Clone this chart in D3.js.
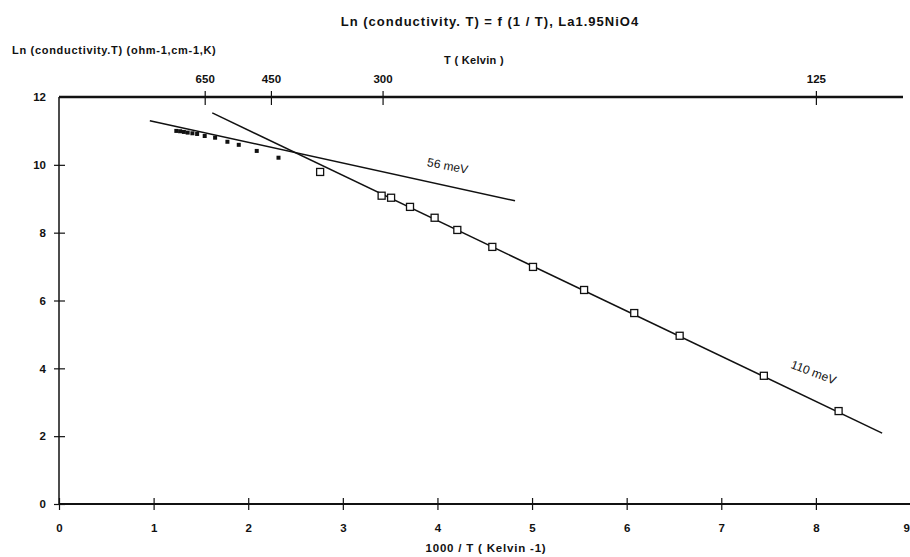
<!DOCTYPE html>
<html>
<head>
<meta charset="UTF-8">
<title>ln_conductivity_T</title>
<style type="text/css">
	body { margin: 0; background: #fff; }
	text { font-family: "Liberation Sans", Arial, sans-serif; font-weight: bold; fill: #111; }
	.tick text { font-size: 11.5px; }
	.axis path, .axis line { stroke: #111; }
</style>
<script type="text/javascript" src="https://cdn.jsdelivr.net/npm/d3@7/dist/d3.min.js"></script>
</head>
<body>
<div id="div_main"></div>
<script type="text/javascript">

	// open squares (1000/T, ln(sigma.T))
	var openX = [2.76, 3.41, 3.51, 3.71, 3.97, 4.21, 4.58, 5.01, 5.55, 6.08, 6.56, 7.45, 8.24];
	var openY = [9.79, 9.09, 9.03, 8.76, 8.44, 8.08, 7.58, 6.99, 6.31, 5.63, 4.96, 3.78, 2.74];

	// small filled points, high temperature
	var fillX = [1.24, 1.28, 1.32, 1.36, 1.41, 1.46, 1.54, 1.65, 1.78, 1.90, 2.09, 2.32];
	var fillY = [11.0, 10.99, 10.97, 10.95, 10.93, 10.91, 10.85, 10.80, 10.68, 10.59, 10.41, 10.21];

	// fitted lines
	var line56X = [0.96, 4.82];
	var line56Y = [11.30, 8.94];
	var line110X = [1.62, 8.70];
	var line110Y = [11.53, 2.09];

	var xTicks = [0, 1, 2, 3, 4, 5, 6, 7, 8, 9];
	var yTicks = [0, 2, 4, 6, 8, 10, 12];
	var topLabels = ["650", "450", "300", "125"];
	var topTickX = [1.54, 2.24, 3.42, 8.0];

	var w = 910, h = 557;

	var scaleX = d3.scaleLinear().domain([0, 9]).range([59, 910.5]);
	var scaleY = d3.scaleLinear().domain([0, 12]).range([504, 97]);

	var svg = d3.select("#div_main").append("svg")
		.attr("width", w)
		.attr("height", h);

	// title & axis names
	svg.append("text").attr("x", 490).attr("y", 26).attr("text-anchor", "middle")
		.style("font-size", "13px").style("letter-spacing", "1px")
		.text("Ln (conductivity. T) = f (1 / T), La1.95NiO4");
	svg.append("text").attr("x", 12).attr("y", 54)
		.style("font-size", "11px").style("letter-spacing", "0.7px")
		.text("Ln (conductivity.T) (ohm-1,cm-1,K)");
	svg.append("text").attr("x", 474).attr("y", 64).attr("text-anchor", "middle")
		.style("font-size", "11px").style("letter-spacing", "0.3px")
		.text("T ( Kelvin )");
	svg.append("text").attr("x", 486).attr("y", 552).attr("text-anchor", "middle")
		.style("font-size", "11.5px").style("letter-spacing", "0.8px")
		.text("1000 / T  ( Kelvin -1)");

	// bottom axis
	var axisX = d3.axisBottom(scaleX).tickValues(xTicks).tickFormat(d3.format("d")).tickSize(6);
	var gx = svg.append("g").attr("class", "axis")
		.attr("transform", "translate(0," + scaleY(0) + ")")
		.call(axisX);
	gx.select(".domain").attr("d", "M" + scaleX(0) + ",0H" + w).attr("stroke-width", 2);
	gx.selectAll(".tick line").attr("y1", -6).attr("y2", 6).attr("stroke-width", 1.2);
	gx.selectAll(".tick text").attr("y", 20);
	gx.selectAll(".tick").filter(function (d) { return d == 9; }).select("text")
		.attr("text-anchor", "end").attr("x", -1);

	// left axis
	var axisY = d3.axisLeft(scaleY).tickValues(yTicks).tickFormat(d3.format("d")).tickSize(5);
	var gy = svg.append("g").attr("class", "axis")
		.attr("transform", "translate(" + scaleX(0) + ",0)")
		.call(axisY);
	gy.select(".domain").attr("d", "M0," + scaleY(0) + "V" + scaleY(12)).attr("stroke-width", 1.5);
	gy.selectAll(".tick line").attr("x1", -5).attr("x2", 6).attr("stroke-width", 1.2);
	gy.selectAll(".tick").filter(function (d) { return d == 12; }).select("line").remove();
	gy.selectAll(".tick text").attr("x", -13);

	// top axis (temperature)
	var axisT = d3.axisTop(scaleX).tickValues(topTickX)
		.tickFormat(function (d, i) { return topLabels[i]; }).tickSize(7);
	var gt = svg.append("g").attr("class", "axis")
		.attr("transform", "translate(0," + scaleY(12) + ")")
		.call(axisT);
	gt.select(".domain").attr("d", "M" + scaleX(0) + ",0H903").attr("stroke-width", 2.6);
	gt.selectAll(".tick line").attr("y1", -6).attr("y2", 8).attr("stroke-width", 1.2);
	gt.selectAll(".tick text").attr("y", -14);

	// fitted lines
	var lineGen = d3.line().x(function (d) { return scaleX(d[0]); }).y(function (d) { return scaleY(d[1]); });
	[[line56X, line56Y], [line110X, line110Y]].forEach(function (l) {
		svg.append("path")
			.datum(d3.zip(l[0], l[1]))
			.attr("d", lineGen)
			.attr("fill", "none")
			.attr("stroke", "#111")
			.attr("stroke-width", 1.5);
	});

	// filled points
	svg.selectAll("rect.fill")
		.data(d3.zip(fillX, fillY))
		.enter()
		.append("rect")
			.attr("class", "fill")
			.attr("x", function (d) { return scaleX(d[0]) - 2; })
			.attr("y", function (d) { return scaleY(d[1]) - 2; })
			.attr("width", 4)
			.attr("height", 4)
			.attr("fill", "#111");

	// open squares
	svg.selectAll("rect.open")
		.data(d3.zip(openX, openY))
		.enter()
		.append("rect")
			.attr("class", "open")
			.attr("x", function (d) { return scaleX(d[0]) - 3.5; })
			.attr("y", function (d) { return scaleY(d[1]) - 3.5; })
			.attr("width", 7)
			.attr("height", 7)
			.attr("fill", "#fff")
			.attr("stroke", "#111")
			.attr("stroke-width", 1.3);

	// slope labels
	svg.append("text")
		.attr("transform", "translate(" + scaleX(4.1) + "," + scaleY(9.85) + ") rotate(11)")
		.attr("text-anchor", "middle")
		.style("font-size", "12px").style("font-weight", "normal")
		.text("56 meV");
	svg.append("text")
		.attr("transform", "translate(" + scaleX(7.96) + "," + scaleY(3.77) + ") rotate(21)")
		.attr("text-anchor", "middle")
		.style("font-size", "12px").style("font-weight", "normal")
		.text("110 meV");

</script>
</body>
</html>
